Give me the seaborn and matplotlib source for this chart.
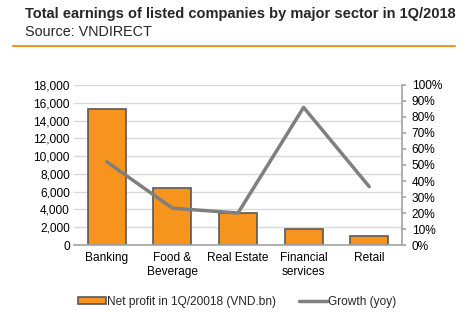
import matplotlib
matplotlib.use("Agg")
import matplotlib.pyplot as plt
import seaborn as sns
import pandas as pd
from matplotlib.ticker import FuncFormatter, MultipleLocator
from matplotlib.patches import Patch
from matplotlib.lines import Line2D

categories = ["Banking", "Food &\nBeverage", "Real Estate", "Financial\nservices", "Retail"]
net_profit = [15300, 6380, 3560, 1800, 1010]
growth = [0.52, 0.23, 0.20, 0.86, 0.365]

sns.set_theme(style="white")
plt.rcParams['font.family'] = ['Liberation Sans', 'DejaVu Sans']

df = pd.DataFrame({"sector": categories, "profit": net_profit, "growth": growth})

fig = plt.figure(figsize=(4.66, 3.23), dpi=100)
ax = fig.add_axes([74/466, 1-245/323, (402-74)/466, 160/323])

orange = "#F7941D"
gray = "#7F7F7F"
fs = 8.6

sns.barplot(data=df, x="sector", y="profit", ax=ax, color=orange, width=0.58,
            edgecolor="#595959", linewidth=1.2, saturation=1)
ax.set_ylim(0, 18000)
ax.yaxis.set_major_locator(MultipleLocator(2000))
ax.yaxis.set_major_formatter(FuncFormatter(lambda v, p: f"{int(v):,}"))
ax.grid(axis="y", color="#D9D9D9", linewidth=1)
ax.set_axisbelow(True)
ax.set_xlabel("")
ax.set_ylabel("")
for s in ["top", "left", "right"]:
    ax.spines[s].set_visible(False)
ax.spines["bottom"].set_color("#A6A6A6")
ax.tick_params(axis="both", labelsize=fs, colors="#000000", length=0, pad=3)
ax.tick_params(axis="x", pad=5)

ax2 = ax.twinx()
sns.lineplot(x=list(range(len(categories))), y=growth, ax=ax2, color=gray, linewidth=2.5)
ax2.set_ylim(0, 1.0)
ax2.yaxis.set_major_locator(MultipleLocator(0.1))
ax2.yaxis.set_major_formatter(FuncFormatter(lambda v, p: f"{int(round(v*100))}%"))
for s in ["top", "left", "bottom"]:
    ax2.spines[s].set_visible(False)
ax2.spines["right"].set_color("#A6A6A6")
ax2.tick_params(axis="y", labelsize=fs, colors="#000000", direction="out", length=3,
                color="#A6A6A6", pad=4)
ax2.grid(False)
ax.set_xlim(-0.5, len(categories) - 0.5)

fig.text(25/466, 1-14/323, "Total earnings of listed companies by major sector in 1Q/2018",
         fontsize=10.5, fontweight="bold", va="center", ha="left")
fig.text(25/466, 1-32/323, "Source: VNDIRECT", fontsize=10.4, va="center", ha="left")
fig.add_artist(Line2D([13/466, 455/466], [1-46/323, 1-46/323], color="#F7941D", linewidth=1.5))

handles = [Patch(facecolor=orange, edgecolor="#595959", linewidth=1.2),
           Line2D([0], [0], color=gray, linewidth=2.5)]
fig.legend(handles, ["Net profit in 1Q/20018 (VND.bn)", "Growth (yoy)"],
           loc="center", bbox_to_anchor=(237/466, 1-302/323), ncol=2, frameon=False,
           fontsize=fs, handlelength=2.35, handleheight=0.5, handletextpad=0.1,
           columnspacing=1.9)

fig.savefig("out.png", dpi=100)
